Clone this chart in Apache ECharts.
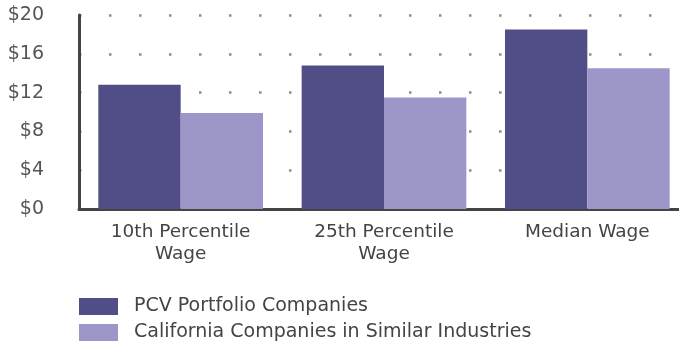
<!DOCTYPE html>
<html><head><meta charset="utf-8">
<script src="https://cdn.jsdelivr.net/npm/echarts@6/dist/echarts.min.js"></script>
<style>html,body{margin:0;padding:0;background:#fff}#c{width:679px;height:342px}</style>
</head><body><div id="c"></div>
<script>
const categories = ["10th Percentile\nWage", "25th Percentile\nWage", "Median Wage"];
const pcvValues = [12.8, 14.8, 18.5];
const caValues = [9.9, 11.5, 14.5];
const seriesNames = ["PCV Portfolio Companies", "California Companies in Similar Industries"];
const yTicks = [0, 4, 8, 12, 16, 20];

const legendText = { fontFamily: 'DejaVu Sans', fontSize: 19, color: '#444', padding: [0, 0, 0, 11] };
const chart = echarts.init(document.getElementById('c'));
chart.setOption({
  animation: false,
  grid: { left: 79, width: 610, top: 15, height: 194, containLabel: false, outerBoundsMode: 'none' },
  legend: [
    { left: 74, top: 292, itemWidth: 39, itemHeight: 17, icon: 'rect', textStyle: legendText, data: [seriesNames[0]], selectedMode: false },
    { left: 74, top: 318, itemWidth: 39, itemHeight: 17, icon: 'rect', textStyle: legendText, data: [seriesNames[1]], selectedMode: false }
  ],
  xAxis: {
    type: 'category', data: categories,
    axisLine: { lineStyle: { color: '#444', width: 3 } },
    axisTick: { show: false },
    axisLabel: { fontFamily: 'DejaVu Sans', fontSize: 18.5, color: '#444', lineHeight: 22, margin: 12 }
  },
  yAxis: {
    type: 'value', min: 0, max: 20, interval: 4,
    axisLine: { show: true, lineStyle: { color: '#444', width: 3 } },
    axisTick: { show: false },
    axisLabel: { fontFamily: 'DejaVu Sans', fontSize: 19, color: '#555', margin: 35,
      formatter: v => yTicks.includes(v) ? '$' + v : '' },
    splitLine: { show: true, lineStyle: { color: '#8c8c8c', width: 2.5, type: [2.5, 27.5] } }
  },
  series: [
    { name: seriesNames[0], type: 'bar', data: pcvValues, barGap: '0%', barCategoryGap: '19%',
      itemStyle: { color: '#514d86' } },
    { name: seriesNames[1], type: 'bar', data: caValues,
      itemStyle: { color: '#9c97c8' } }
  ]
});
</script></body></html>
